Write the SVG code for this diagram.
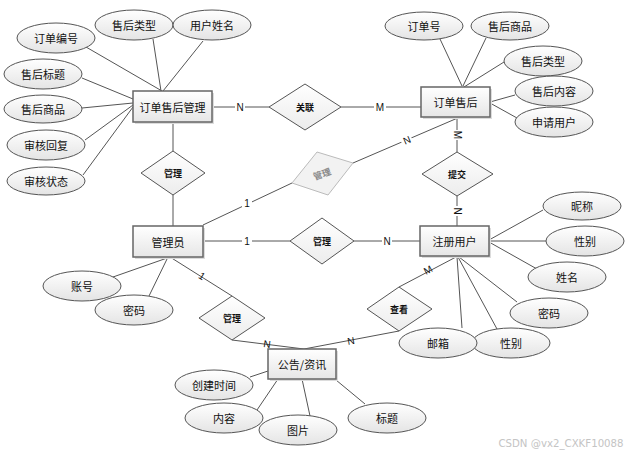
<svg xmlns="http://www.w3.org/2000/svg" width="632" height="454" viewBox="0 0 632 454">
<defs>
<linearGradient id="gE" x1="0" y1="0" x2="0" y2="1"><stop offset="0" stop-color="#ffffff"/><stop offset="1" stop-color="#e4e4e4"/></linearGradient>
<linearGradient id="gR" x1="0" y1="0" x2="0" y2="1"><stop offset="0" stop-color="#ffffff"/><stop offset="1" stop-color="#e6e6e6"/></linearGradient>
<linearGradient id="gD" x1="0" y1="0" x2="0" y2="1"><stop offset="0" stop-color="#ffffff"/><stop offset="1" stop-color="#ececec"/></linearGradient>
<style>
text{font-family:"Noto Sans CJK SC","Liberation Sans",sans-serif;text-anchor:middle;dominant-baseline:central;fill:#111}
.e{fill:url(#gE);stroke:#555;stroke-width:1}
.r{fill:url(#gR);stroke:#666;stroke-width:1.5}
.sh{fill:#dcdcdc}
.d{fill:url(#gD);stroke:#555;stroke-width:1}
.t{font-size:11px}
.tr{font-size:11px}
.td{font-size:9px;font-weight:bold}
.c line,.c polyline{stroke:#555;stroke-width:1;fill:none}
.lb{font-size:10px;font-family:"Liberation Sans",sans-serif}
</style>
</defs>
<rect width="632" height="454" fill="#fff"/>
<g class="c" id="connectors">
<line x1="86" y1="47" x2="162" y2="91"/>
<line x1="153" y1="39" x2="161" y2="91"/>
<line x1="203" y1="41" x2="163" y2="91"/>
<line x1="82" y1="78" x2="133" y2="99"/>
<line x1="82" y1="108" x2="133" y2="103"/>
<line x1="85" y1="140" x2="133" y2="105"/>
<line x1="83" y1="175" x2="133" y2="107"/>
<line x1="212" y1="107" x2="269" y2="107"/>
<line x1="341" y1="107" x2="421" y2="107"/>
<line x1="440" y1="39" x2="462" y2="86"/>
<line x1="486" y1="38" x2="463" y2="86"/>
<line x1="504" y1="62" x2="464" y2="87"/>
<line x1="515" y1="95" x2="490" y2="102"/>
<line x1="517" y1="118" x2="490" y2="103"/>
<line x1="460" y1="117" x2="353" y2="163"/>
<line x1="457" y1="117" x2="457" y2="152"/>
<line x1="457" y1="196" x2="457" y2="226"/>
<line x1="173" y1="122" x2="173" y2="151"/>
<line x1="173" y1="195" x2="173" y2="226"/>
<line x1="203" y1="225" x2="292" y2="183"/>
<line x1="203" y1="241" x2="290" y2="241"/>
<line x1="354" y1="241" x2="420" y2="241"/>
<line x1="113" y1="277" x2="170" y2="257"/>
<line x1="149" y1="296" x2="168" y2="257"/>
<line x1="170" y1="257" x2="232" y2="296"/>
<polyline points="232,340 304,349"/>
<polyline points="399,331 304,349"/>
<line x1="399" y1="287" x2="456" y2="257"/>
<line x1="250" y1="377" x2="268" y2="371"/>
<line x1="257" y1="410" x2="278" y2="379"/>
<line x1="310" y1="416" x2="302" y2="379"/>
<line x1="365" y1="404" x2="336" y2="380"/>
<line x1="543" y1="210" x2="489" y2="240"/>
<line x1="546" y1="241" x2="489" y2="241"/>
<line x1="537" y1="269" x2="489" y2="242"/>
<line x1="517" y1="302" x2="459" y2="257"/>
<line x1="497" y1="329" x2="458" y2="257"/>
<line x1="462" y1="328" x2="457" y2="257"/>
</g>
<g id="labels" class="lb">
<rect x="235" y="101" width="10" height="12" fill="#fff"/><text x="240" y="107" class="lb">N</text>
<rect x="374" y="101" width="12" height="12" fill="#fff"/><text x="380" y="107" class="lb">M</text>
<rect x="401" y="134" width="11" height="11" fill="#fff" transform="rotate(-23 407 140)"/><text x="407" y="140" class="lb" transform="rotate(-23 407 140)">N</text>
<rect x="451" y="130" width="12" height="10" fill="#fff"/><text x="457" y="135" class="lb" transform="rotate(90 457 135)">M</text>
<rect x="452" y="206" width="10" height="10" fill="#fff"/><text x="457" y="211" class="lb" transform="rotate(90 457 211)">N</text>
<rect x="242" y="197" width="10" height="12" fill="#fff"/><text x="247" y="203" class="lb">1</text>
<rect x="242" y="235" width="10" height="12" fill="#fff"/><text x="247" y="241" class="lb">1</text>
<rect x="382" y="235" width="10" height="12" fill="#fff"/><text x="387" y="241" class="lb">N</text>
<text x="202" y="276" class="lb" font-size="8" transform="rotate(32 202 276)">1</text>
<text x="267" y="344" font-size="8" class="lb" transform="rotate(8 267 344)">N</text>
<text x="351" y="341" font-size="8" class="lb" transform="rotate(-10 351 341)">N</text>
<text x="428" y="270" font-size="8" class="lb" transform="rotate(-28 428 270)">M</text>
</g>
<g id="e_ddbh"><ellipse class="e" cx="56" cy="38" rx="39" ry="15"/><text class="t" x="56" y="38">订单编号</text></g>
<g id="e_shlx1"><ellipse class="e" cx="134" cy="25" rx="39" ry="15"/><text class="t" x="134" y="25">售后类型</text></g>
<g id="e_yhxm"><ellipse class="e" cx="212" cy="25" rx="39" ry="15"/><text class="t" x="212" y="25">用户姓名</text></g>
<g id="e_shbt"><ellipse class="e" cx="43" cy="74" rx="39" ry="15"/><text class="t" x="43" y="74">售后标题</text></g>
<g id="e_shsp1"><ellipse class="e" cx="43" cy="109" rx="39" ry="14"/><text class="t" x="43" y="109">售后商品</text></g>
<g id="e_shhf"><ellipse class="e" cx="46" cy="145" rx="39" ry="15"/><text class="t" x="46" y="145">审核回复</text></g>
<g id="e_shzt"><ellipse class="e" cx="46" cy="181" rx="39" ry="14"/><text class="t" x="46" y="181">审核状态</text></g>
<g id="e_ddh"><ellipse class="e" cx="424" cy="26" rx="39" ry="14"/><text class="t" x="424" y="26">订单号</text></g>
<g id="e_shsp2"><ellipse class="e" cx="510" cy="26" rx="39" ry="14"/><text class="t" x="510" y="26">售后商品</text></g>
<g id="e_shlx2"><ellipse class="e" cx="543" cy="61" rx="39" ry="15"/><text class="t" x="543" y="61">售后类型</text></g>
<g id="e_shnr"><ellipse class="e" cx="554" cy="91" rx="39" ry="15"/><text class="t" x="554" y="91">售后内容</text></g>
<g id="e_sqyh"><ellipse class="e" cx="554" cy="122" rx="39" ry="15"/><text class="t" x="554" y="122">申请用户</text></g>
<g id="e_zh"><ellipse class="e" cx="82" cy="286" rx="39" ry="15"/><text class="t" x="82" y="286">账号</text></g>
<g id="e_mm1"><ellipse class="e" cx="134" cy="310" rx="39" ry="15"/><text class="t" x="134" y="310">密码</text></g>
<g id="e_nc"><ellipse class="e" cx="582" cy="206" rx="39" ry="14"/><text class="t" x="582" y="206">昵称</text></g>
<g id="e_xb1"><ellipse class="e" cx="585" cy="241" rx="39" ry="15"/><text class="t" x="585" y="241">性别</text></g>
<g id="e_xm"><ellipse class="e" cx="567" cy="277" rx="39" ry="15"/><text class="t" x="567" y="277">姓名</text></g>
<g id="e_mm2"><ellipse class="e" cx="549" cy="313" rx="39" ry="15"/><text class="t" x="549" y="313">密码</text></g>
<g id="e_xb2"><ellipse class="e" cx="511" cy="343" rx="39" ry="15"/><text class="t" x="511" y="343">性别</text></g>
<g id="e_yx"><ellipse class="e" cx="438" cy="343" rx="39" ry="15"/><text class="t" x="438" y="343">邮箱</text></g>
<g id="e_cjsj"><ellipse class="e" cx="214" cy="385" rx="39" ry="15"/><text class="t" x="214" y="385">创建时间</text></g>
<g id="e_nr"><ellipse class="e" cx="224" cy="418" rx="39" ry="15"/><text class="t" x="224" y="418">内容</text></g>
<g id="e_tp"><ellipse class="e" cx="298" cy="430" rx="39" ry="15"/><text class="t" x="298" y="430">图片</text></g>
<g id="e_bt"><ellipse class="e" cx="387" cy="418" rx="39" ry="15"/><text class="t" x="387" y="418">标题</text></g>
<g id="n_ddshgl"><rect class="sh" x="135" y="93" width="79" height="31"/><rect class="r" x="133" y="91" width="79" height="31"/><text class="tr" x="172.5" y="106.5">订单售后管理</text></g>
<g id="n_ddsh"><rect class="sh" x="423" y="89" width="69" height="30"/><rect class="r" x="421" y="87" width="69" height="30"/><text class="tr" x="455.5" y="102">订单售后</text></g>
<g id="n_gly"><rect class="sh" x="135" y="228" width="70" height="31"/><rect class="r" x="133" y="226" width="70" height="31"/><text class="tr" x="168" y="241.5">管理员</text></g>
<g id="n_zcyh"><rect class="sh" x="422" y="228" width="69" height="30"/><rect class="r" x="420" y="226" width="69" height="30"/><text class="tr" x="454.5" y="241">注册用户</text></g>
<g id="n_gg"><rect class="sh" x="270" y="351" width="68" height="30"/><rect class="r" x="268" y="349" width="68" height="30"/><text class="tr" x="302" y="364">公告/资讯</text></g>
<g id="r_gl_top"><polygon class="d" points="173,151 205,173 173,195 141,173"/><text class="td" x="173" y="173">管理</text></g>
<g id="r_gl_gray"><polygon points="317,152 353,163 328,195 292,183" fill="#f2f2f2" stroke="#bbb" stroke-width="1"/><text class="td" x="322" y="174" style="fill:#8a8a8a" transform="rotate(-20 322 174)">管理</text></g>
<g id="r_gl"><polygon class="d" points="322,218 354,241 322,264 290,241"/><text class="td" x="322" y="241">管理</text></g>
<g id="r_gl_low"><polygon class="d" points="232,296 265,318 232,340 199,318"/><text class="td" x="232" y="318">管理</text></g>
<g id="r_gl_rel"><polygon class="d" points="305,84 341,107 305,130 269,107"/><text class="td" x="305" y="107">关联</text></g>
<g id="r_tj"><polygon class="d" points="457,152 493,174 457,196 422,174"/><text class="td" x="457" y="174">提交</text></g>
<g id="r_ck"><polygon class="d" points="399,287 432,309 399,331 367,309"/><text class="td" x="399" y="309">查看</text></g>
<text x="561" y="443" style="font-family:'DejaVu Sans',sans-serif;font-size:10.2px;fill:#c4c4c4">CSDN @vx2_CXKF10088</text>
</svg>
